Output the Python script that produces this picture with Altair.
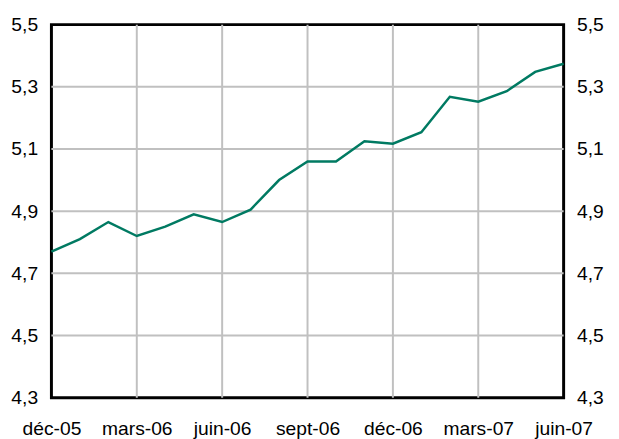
import altair as alt
import pandas as pd

months = ["déc-05", "janv-06", "févr-06", "mars-06", "avr-06", "mai-06", "juin-06",
          "juil-06", "août-06", "sept-06", "oct-06", "nov-06", "déc-06",
          "janv-07", "févr-07", "mars-07", "avr-07", "mai-07", "juin-07"]
values = [4.77, 4.81, 4.865, 4.82, 4.85, 4.89, 4.865, 4.905, 5.00, 5.06, 5.06,
          5.125, 5.117, 5.154, 5.268, 5.252, 5.286, 5.348, 5.374]
tick_labels = ["déc-05", "mars-06", "juin-06", "sept-06", "déc-06", "mars-07", "juin-07"]
x_ticks = [0, 3, 6, 9, 12, 15, 18]
y_ticks = [4.3, 4.5, 4.7, 4.9, 5.1, 5.3, 5.5]
x_grid = [3, 6, 9, 12, 15]
y_grid = [4.5, 4.7, 4.9, 5.1, 5.3]

df = pd.DataFrame({"idx": list(range(len(months))), "month": months, "value": values})
xg = pd.DataFrame({"idx": x_grid})
yg = pd.DataFrame({"value": y_grid})

label_arr = "[" + ",".join("'" + t + "'" for t in tick_labels) + "]"
FONT = "Liberation Sans"
FS = 19.5

xscale = alt.Scale(domain=[0, 18], nice=False, zero=False)
yscale = alt.Scale(domain=[4.3, 5.5], nice=False, zero=False)
ylabel = "replace(format(datum.value, '.1f'), '.', ',')"

x = alt.X("idx:Q", scale=xscale,
          axis=alt.Axis(values=x_ticks, title=None,
                        labelExpr=label_arr + "[round(datum.value/3)]",
                        labelFlush=False, labelOverlap=False, ticks=False, tickSize=0,
                        domain=False, grid=False,
                        labelFont=FONT, labelFontSize=FS, labelColor="black",
                        labelPadding=22))

vgrid = alt.Chart(xg).mark_rule(color="#c0c0c0", strokeWidth=2).encode(
    x=alt.X("idx:Q", scale=xscale, axis=None)
)
hgrid = alt.Chart(yg).mark_rule(color="#c0c0c0", strokeWidth=2).encode(
    y=alt.Y("value:Q", scale=yscale, axis=None)
)

line = alt.Chart(df).mark_line(color="#007a62", strokeWidth=2.5).encode(
    x=x,
    y=alt.Y("value:Q", scale=yscale,
            axis=alt.Axis(values=y_ticks, title=None, orient="left", labelExpr=ylabel,
                          ticks=False, tickSize=0, domain=False, grid=False,
                          labelFont=FONT, labelFontSize=FS, labelColor="black",
                          labelPadding=14)),
)

right = alt.Chart(df).mark_line(opacity=0).encode(
    x=alt.X("idx:Q", scale=xscale, axis=None),
    y=alt.Y("value:Q", scale=yscale,
            axis=alt.Axis(values=y_ticks, title=None, orient="right", labelExpr=ylabel,
                          ticks=False, tickSize=0, domain=False, grid=False,
                          labelFont=FONT, labelFontSize=FS, labelColor="black",
                          labelPadding=13)),
)

chart = alt.layer(vgrid, hgrid, right, line).resolve_axis(
    x="independent", y="independent"
).properties(
    width=519, height=378,
    background="white",
    autosize=alt.AutoSizeParams(type="none"),
    padding={"left": 44, "top": 14, "right": 48, "bottom": 39},
).configure_view(stroke="black", strokeWidth=3)

chart.save("out.html", embed_options={"renderer": "svg", "actions": False})
